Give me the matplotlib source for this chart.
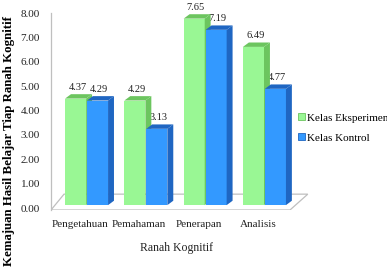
import numpy as np
import matplotlib
matplotlib.use('Agg')
import matplotlib.pyplot as plt
from matplotlib.patches import Polygon, Patch

categories = ['Pengetahuan', 'Pemahaman', 'Penerapan', 'Analisis']
eksperimen = [4.37, 4.29, 7.65, 6.49]
kontrol = [4.29, 3.13, 7.19, 4.77]
series_names = ['Kelas Eksperimen', 'Kelas Kontrol']
y_ticks = [0, 1, 2, 3, 4, 5, 6, 7, 8]

W, H = 387, 268
plt.rcParams['font.family'] = ['Liberation Serif', 'DejaVu Serif']

fig = plt.figure(figsize=(W / 100, H / 100), dpi=100)
# axes in pixel terms: left 51, right 315, bottom 210, top 13
ax = fig.add_axes([51 / W, (H - 210) / H, (315 - 51) / W, (210 - 13) / H])
x_lo, x_hi = -0.607, 3.845
y_lo, y_hi = -0.08, 8.0
ax.set_xlim(x_lo, x_hi)
ax.set_ylim(y_lo, y_hi)

bar_w = 0.355
dx, dy = 0.10, 0.18        # bar depth offset
fdx, fdy = 0.22, 0.65      # floor depth offset
base = 0.12

green = ('#99F794', '#6CC55F')
blue = ('#3399FF', '#1F66C2')

# floor
floor_right = x_lo + (290 - 51) / 59.3
floor = Polygon([(x_lo, y_lo), (floor_right, y_lo), (floor_right + fdx + 0.08, y_lo + fdy),
                 (x_lo + fdx, y_lo + fdy)], closed=True, facecolor='white',
                edgecolor='#BFBFBF', lw=0.9, zorder=1)
ax.add_patch(floor)


def bar3d(left, value, cols, z):
    right = left + bar_w
    top = base + value
    front = Polygon([(left, base), (right, base), (right, top), (left, top)],
                    facecolor=cols[0], edgecolor='none', zorder=z)
    side = Polygon([(right, base), (right + dx, base + dy), (right + dx, top + dy), (right, top)],
                   facecolor=cols[1], edgecolor='none', zorder=z)
    cap = Polygon([(left, top), (left + dx, top + dy), (right + dx, top + dy), (right, top)],
                  facecolor=cols[1], edgecolor='none', zorder=z)
    for p in (front, side, cap):
        ax.add_patch(p)


x = np.arange(len(categories))
for i in range(len(categories)):
    gl = x[i] - bar_w - 0.015
    bl = x[i]
    bar3d(gl, eksperimen[i], green, 3 + 2 * i)
    bar3d(bl, kontrol[i], blue, 4 + 2 * i)
    for left, v in ((gl, eksperimen[i]), (bl, kontrol[i])):
        ax.text(left + bar_w / 2 + dx / 2 - 0.02, base + v + dy + 0.1, f'{v:.2f}',
                ha='center', va='bottom', fontsize=7.5, color='#222222', zorder=2)

ax.set_yticks(y_ticks)
ax.set_yticklabels([f'{t:.2f}' for t in y_ticks], fontsize=8)
ax.set_xticks(x - 0.12)
ax.set_xticklabels(categories, fontsize=8)
ax.tick_params(axis='both', length=0, colors='#222222')
ax.tick_params(axis='y', pad=8)
ax.tick_params(axis='x', pad=7)
for s in ('top', 'right', 'bottom'):
    ax.spines[s].set_visible(False)
ax.spines['left'].set_color('#BFBFBF')
ax.spines['left'].set_linewidth(0.9)
ax.patch.set_visible(False)

fig.text(177 / W, 1 - 248 / H, 'Ranah Kognitif', ha='center', va='center', fontsize=8.5, color='#222222')
fig.text(9 / W, 2 / H, 'Kemajuan Hasil Belajar Tiap Ranah Kognitif', rotation=90,
         ha='center', va='bottom', fontsize=9.3, fontweight='bold')

handles = [Patch(facecolor=green[0], edgecolor=green[1], lw=0.6),
           Patch(facecolor=blue[0], edgecolor=blue[1], lw=0.6)]
fig.legend(handles, series_names, loc='center left', bbox_to_anchor=(298 / W, 1 - 128 / H),
           bbox_transform=fig.transFigure, frameon=False, fontsize=8,
           handlelength=0.6, handleheight=0.6, handletextpad=0.2, labelspacing=0.95,
           borderpad=0, borderaxespad=0)

fig.savefig('out.png', dpi=100)
